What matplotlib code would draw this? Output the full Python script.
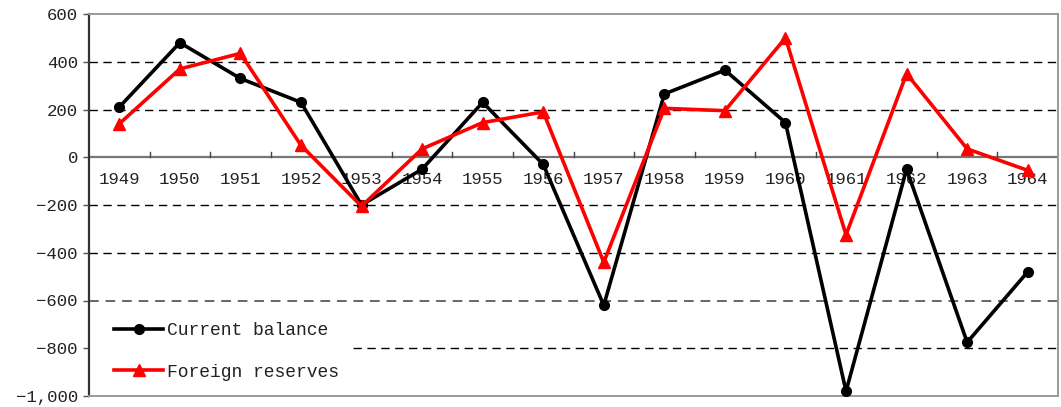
import matplotlib
matplotlib.use("Agg")
import matplotlib.pyplot as plt
from matplotlib.ticker import FuncFormatter

YEARS = [str(y) for y in range(1949, 1965)]
CURRENT = [210, 480, 330, 230, -200, -50, 230, -30, -620, 265, 365, 145, -980, -50, -775, -480]
RESERVES = [140, 370, 435, 50, -205, 35, 145, 190, -440, 205, 195, 500, -325, 350, 35, -55]

FONT = "Liberation Mono"
plt.rcParams["font.family"] = [FONT, "DejaVu Sans"]

fig = plt.figure(figsize=(10.61, 4.07), dpi=100)
ax = fig.add_axes([89 / 1061, 1 - 396 / 407, (1058 - 89) / 1061, (396 - 14) / 407])

xs = list(range(len(YEARS)))
ax.plot(xs, CURRENT, color="black", lw=2.6, marker="o", ms=7, label="Current balance", zorder=3)
ax.plot(xs, RESERVES, color="#ff0000", lw=2.6, marker="^", ms=9, label="Foreign reserves", zorder=4)

ax.set_xlim(-0.5, len(YEARS) - 0.5)
ax.set_ylim(-1000, 600)
ax.set_yticks(range(-1000, 601, 200))
ax.yaxis.set_major_formatter(FuncFormatter(
    lambda v, p: ("\u2212" if v < 0 else "") + f"{abs(int(v)):,}"))
ax.tick_params(axis="y", labelsize=12.5, length=4, width=1, color="#555555", pad=4,
               labelcolor="#222222")

for v in (400, 200, -200, -400):
    ax.axhline(v, color="black", lw=1, ls=(0, (6, 4)), zorder=1)
ax.axhline(-600, color="#666666", lw=1.4, ls=(0, (5, 3.5)), zorder=1)
# the legend box hides the left part of this one
ax.axhline(-800, xmin=0.272, color="black", lw=1, ls=(0, (6, 4)), zorder=1)
ax.axhline(0, color="#777777", lw=1.6, zorder=2)

# category axis drawn on the zero line
ax.set_xticks([])
for i in range(1, len(YEARS)):
    ax.plot([i - 0.5, i - 0.5], [0, 22], color="#444444", lw=1, zorder=2)
for i, yr in enumerate(YEARS):
    ax.text(i, -92, yr, ha="center", va="center", fontsize=12.5, color="#222222", zorder=2)

for s in ("top", "right", "bottom"):
    ax.spines[s].set_color("#999999")
    ax.spines[s].set_linewidth(1.4)
ax.spines["left"].set_color("#333333")
ax.spines["left"].set_linewidth(1.6)

leg = ax.legend(loc="lower left", bbox_to_anchor=(10 / 969, 0.0), fontsize=13, frameon=True,
                labelspacing=1.35, handlelength=2.7, handletextpad=0.2,
                borderpad=0.55, borderaxespad=0.3, edgecolor="white")
leg.get_frame().set_linewidth(0)
leg.get_frame().set_alpha(1)
leg.set_zorder(5)
for t in leg.get_texts():
    t.set_color("#222222")

fig.savefig("out.png", dpi=100)
